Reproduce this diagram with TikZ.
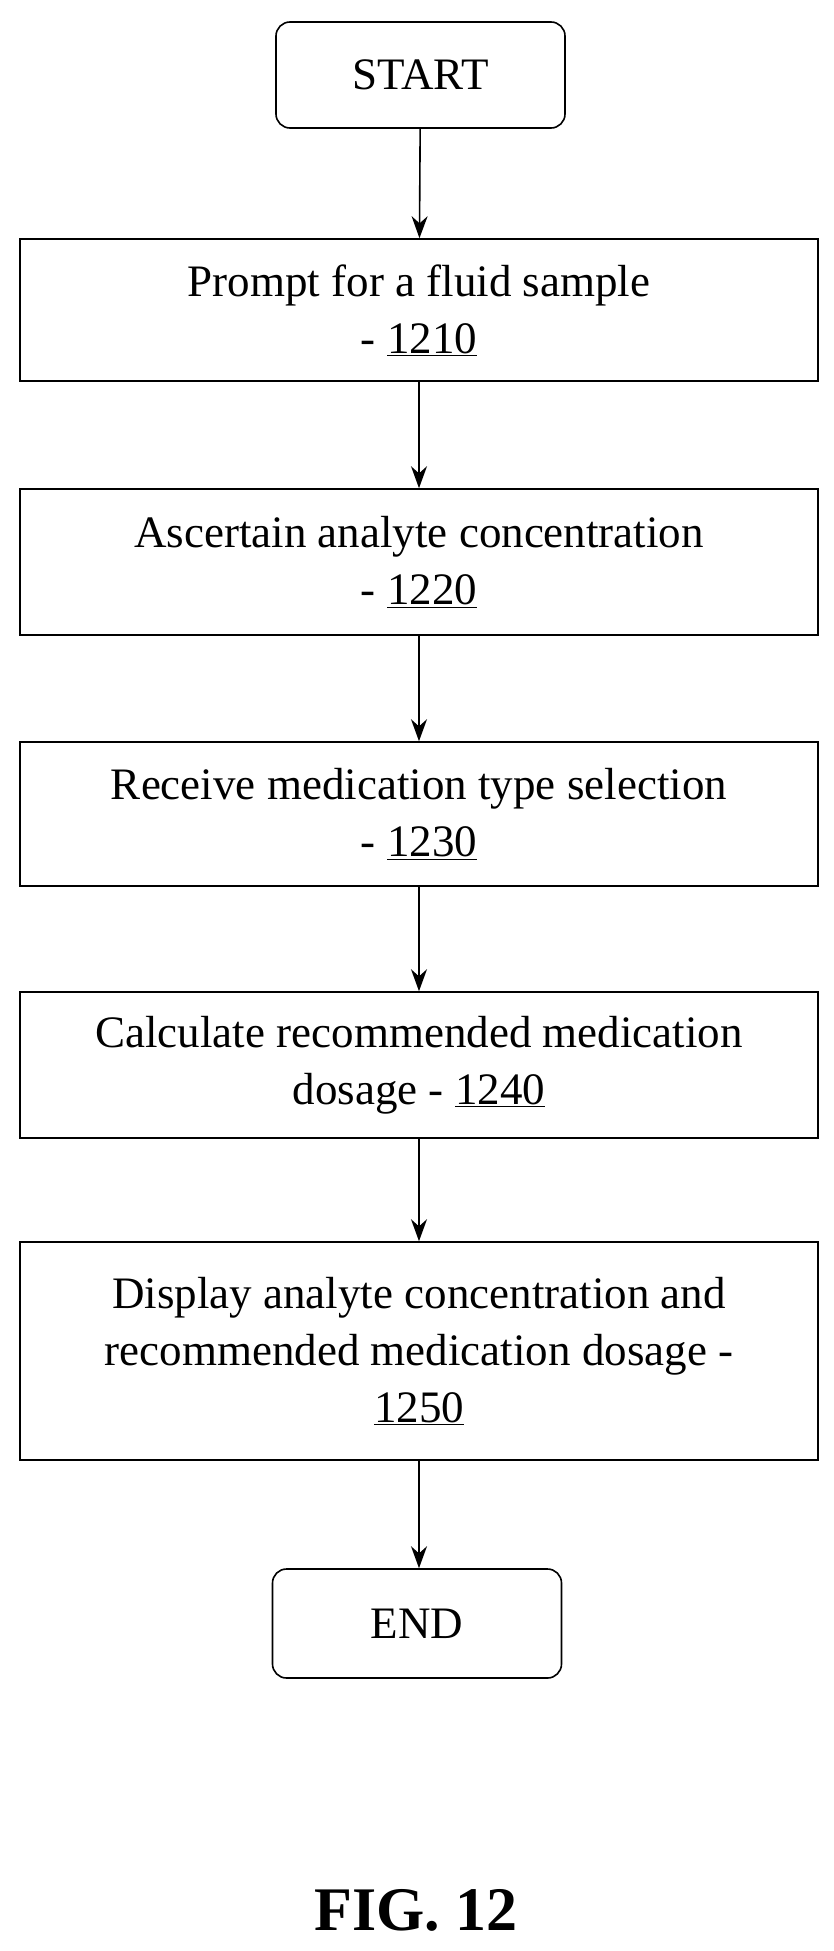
\documentclass[tikz,border=0pt]{standalone}
\usepackage{fontspec}
\setmainfont{Liberation Serif}
\usetikzlibrary{positioning,arrows.meta}

\begin{document}
\begin{tikzpicture}[x=1pt,y=1pt]
        \tikzstyle{every node}=[font=\fontsize{45}{57}\selectfont, align=center, line width=1.6pt]
        \tikzstyle{term}=[draw, rounded corners=14pt, minimum width=289pt]
        \tikzstyle{box}=[draw, minimum width=798pt, inner sep=0pt]
        \tikzstyle{flow}=[draw, line width=1.6pt, -{Stealth[length=22pt,width=16pt]}]

        \useasboundingbox (0,0) rectangle (833,-1951);

        \node (start) [term, minimum height=106pt] at (420.5,-75) {START};
        \node (s1210) [box, minimum height=142pt] at (419,-310) {Prompt for a fluid sample\\- \underline{1210}};
        \node (s1220) [box, minimum height=146pt] at (419,-562) {Ascertain analyte concentration\\- \underline{1220}};
        \node (s1230) [box, minimum height=144pt] at (419,-814) {Receive medication type selection\\- \underline{1230}};
        \node (s1240) [box, minimum height=146pt] at (419,-1065) {Calculate recommended medication\\dosage - \underline{1240}};
        \node (s1250) [box, minimum height=218pt] at (419,-1351) {Display analyte concentration and\\recommended medication dosage -\\\underline{1250}};
        \node (end)   [term, minimum height=109pt] at (417,-1623.5) {END};
        \node (fig) [font=\fontsize{62}{62}\selectfont\bfseries] at (416,-1910) {FIG. 12};

        \draw[flow] (start) -- (s1210);
        \draw[flow] (s1210) -- (s1220);
        \draw[flow] (s1220) -- (s1230);
        \draw[flow] (s1230) -- (s1240);
        \draw[flow] (s1240) -- (s1250);
        \draw[flow] (s1250) -- (s1250 |- end.north);

\end{tikzpicture}
\end{document}
